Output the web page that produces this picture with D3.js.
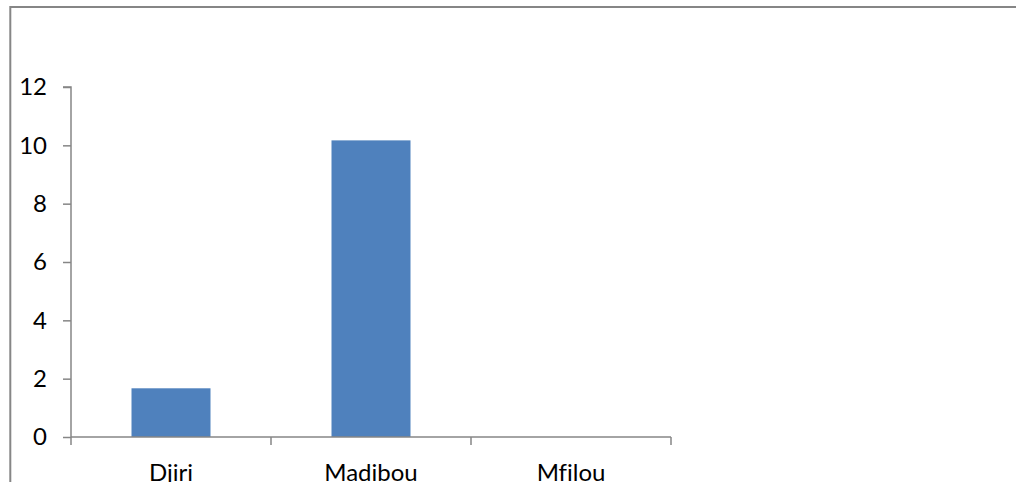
<!DOCTYPE html>
<html>
<head>
<meta charset="utf-8">
<script src="https://cdn.jsdelivr.net/npm/d3@7"></script>
<style>
  html, body { margin: 0; padding: 0; background: #fff; }
  svg { display: block; }
  text { font-family: Lato, "Liberation Sans", sans-serif; fill: #000; font-variant-ligatures: none; font-feature-settings: "liga" 0; }
</style>
</head>
<body>
<svg id="chart" width="1016" height="482"></svg>
<script>
const categories = ["Djiri", "Madibou", "Mfilou"];
const values = [1.67, 10.17, 0];
const yTicks = [0, 2, 4, 6, 8, 10, 12];

const svg = d3.select("#chart");
const plot = { left: 71, right: 671, top: 87, bottom: 437 };
const axisColor = "#868686";

// outer chart border
svg.append("rect")
  .attr("x", 10.3).attr("y", 7)
  .attr("width", 1020).attr("height", 500)
  .attr("fill", "none")
  .attr("stroke", axisColor)
  .attr("stroke-width", 2);

const x = d3.scaleBand()
  .domain(categories)
  .range([plot.left, plot.right])
  .paddingInner(0.605)
  .paddingOuter(0.3025);

const y = d3.scaleLinear()
  .domain([0, 12])
  .range([plot.bottom, plot.top]);

// bars
svg.append("g").selectAll("rect")
  .data(categories.map((c, i) => ({ c, v: values[i] })))
  .join("rect")
  .attr("x", d => x(d.c))
  .attr("width", x.bandwidth())
  .attr("y", d => y(d.v))
  .attr("height", d => y(0) - y(d.v))
  .attr("fill", "#4F81BD");

// y axis
const yAxis = d3.axisLeft(y).tickValues(yTicks).tickSize(8).tickPadding(16).tickFormat(d3.format("d"));
const gy = svg.append("g").attr("transform", `translate(${plot.left},0)`).call(yAxis);
gy.select(".domain").attr("stroke", axisColor).attr("stroke-width", 1.5)
  .attr("d", `M-8,${plot.top}H0V${plot.bottom}`);
gy.selectAll(".tick line").attr("stroke", axisColor).attr("stroke-width", 1.5);
gy.selectAll(".tick text").style("font-size", "24px").attr("fill", "#000")
  .style("font-family", "Lato, 'Liberation Sans', sans-serif");

// x axis
const xAxis = d3.axisBottom(x).tickSize(0).tickPadding(27);
const gx = svg.append("g").attr("transform", `translate(0,${plot.bottom})`).call(xAxis);
gx.select(".domain").attr("stroke", axisColor).attr("stroke-width", 1.5)
  .attr("d", `M${plot.left},0H${plot.right}`);
gx.selectAll(".tick text").style("font-size", "24px").attr("fill", "#000")
  .style("font-family", "Lato, 'Liberation Sans', sans-serif")
  .attr("dy", "0.71em");

// category separator ticks
const step = x.step();
const sepPositions = d3.range(categories.length + 1).map(i => plot.left + i * step);
gx.append("g").selectAll("line")
  .data(sepPositions)
  .join("line")
  .attr("x1", d => d).attr("x2", d => d)
  .attr("y1", 0).attr("y2", 8)
  .attr("stroke", axisColor).attr("stroke-width", 1.5);
</script>
</body>
</html>
